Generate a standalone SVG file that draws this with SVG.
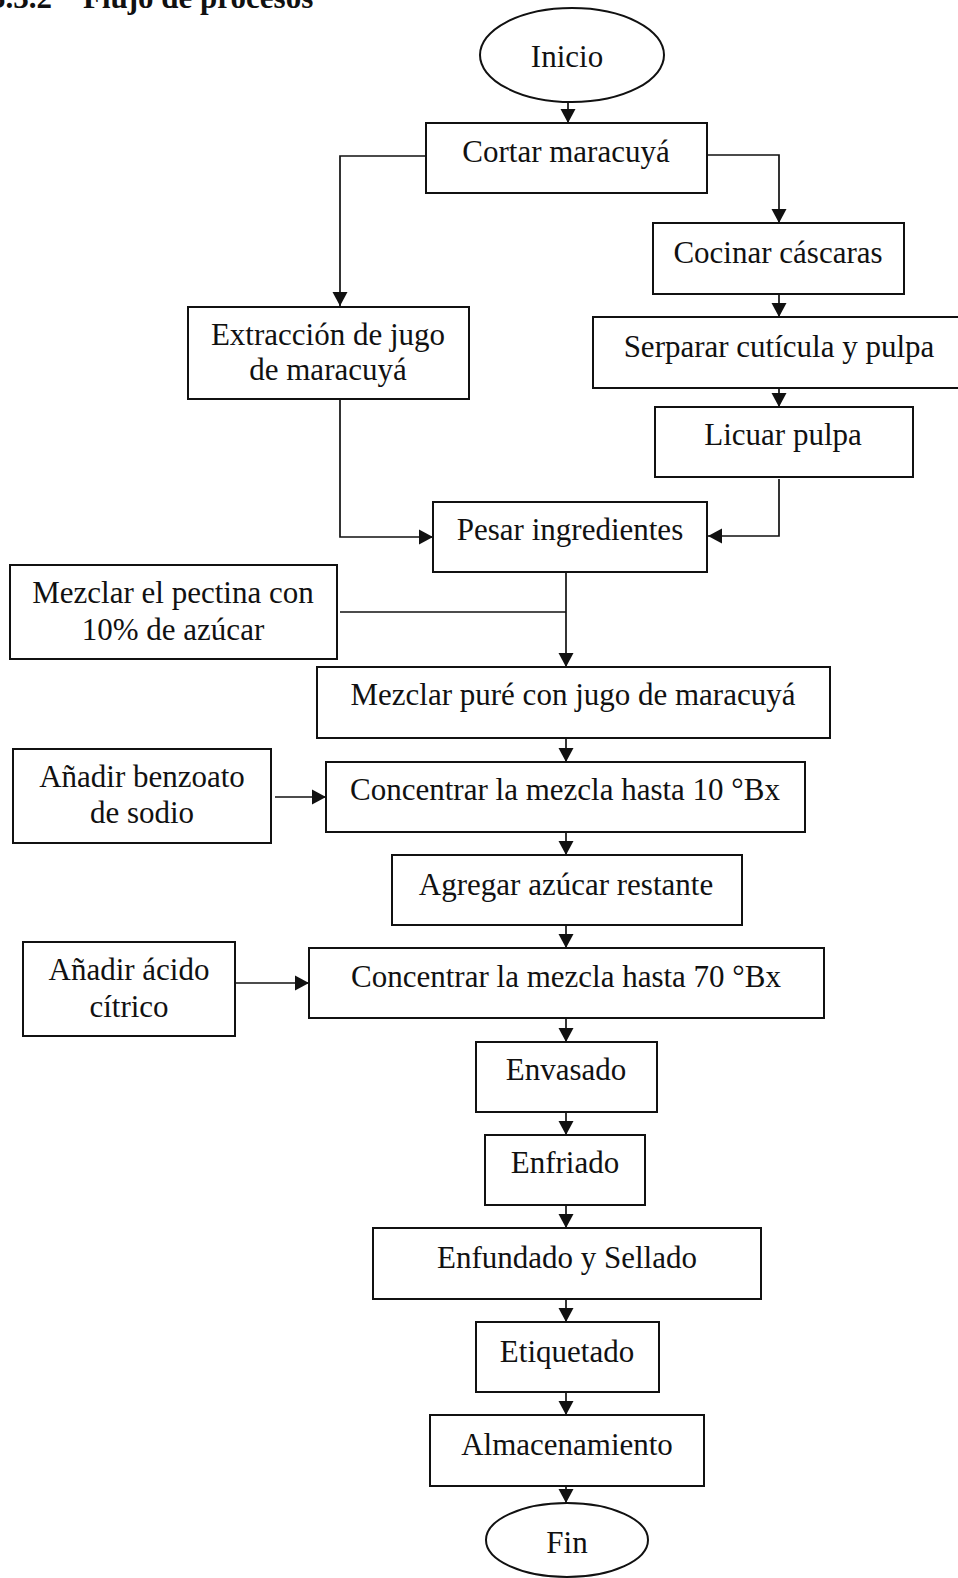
<svg xmlns="http://www.w3.org/2000/svg" width="958" height="1578" viewBox="0 0 958 1578">
<style>
.b{fill:#fff;stroke:#111;stroke-width:2}
.t{font-family:"Liberation Serif","Times New Roman",serif;font-size:31px;fill:#111;text-anchor:middle}
.h{font-family:"Liberation Serif","Times New Roman",serif;font-size:31px;font-weight:bold;fill:#111}
.c{fill:none;stroke:#111;stroke-width:1.7}
.a{marker-end:url(#ar)}
</style>
<defs>
<marker id="ar" markerUnits="userSpaceOnUse" markerWidth="16" markerHeight="16" viewBox="0 0 16 16" refX="15" refY="8" orient="auto">
<path d="M1,0.5 L15,8 L1,15.5 Z" fill="#111"/>
</marker>
</defs>
<rect width="958" height="1578" fill="#fff"/>
<text class="h" x="-10" y="8">5.3.2</text>
<text class="h" x="83" y="8">Flujo de procesos</text>
<g id="connectors">
<path class="c a" d="M568,102 L568,123"/>
<path class="c a" d="M426,156 L340,156 L340,306"/>
<path class="c a" d="M707,155 L779,155 L779,223"/>
<path class="c a" d="M779,294 L779,317"/>
<path class="c a" d="M779,388 L779,407"/>
<path class="c a" d="M779,479 L779,536 L708,536"/>
<path class="c a" d="M340,399 L340,537 L433,537"/>
<path class="c a" d="M566,572 L566,667"/>
<path class="c" d="M340,612 L566,612"/>
<path class="c a" d="M566,738 L566,762"/>
<path class="c a" d="M275,797 L326,797"/>
<path class="c a" d="M566,832 L566,855"/>
<path class="c a" d="M566,925 L566,948"/>
<path class="c a" d="M235,983 L309,983"/>
<path class="c a" d="M566,1018 L566,1042"/>
<path class="c a" d="M566,1112 L566,1135"/>
<path class="c a" d="M566,1205 L566,1228"/>
<path class="c a" d="M566,1299 L566,1322"/>
<path class="c a" d="M566,1392 L566,1415"/>
<path class="c a" d="M566,1486 L566,1503"/>
</g>
<g id="inicio"><ellipse class="b" cx="572" cy="55" rx="92" ry="47"/><text class="t" x="567" y="67">Inicio</text></g>
<g id="cortar"><rect class="b" x="426" y="123" width="281" height="70"/><text class="t" x="566" y="162">Cortar maracuyá</text></g>
<g id="extraccion"><rect class="b" x="188" y="307" width="281" height="92"/><text class="t" x="328" y="345">Extracción de jugo</text><text class="t" x="328" y="380">de maracuyá</text></g>
<g id="cocinar"><rect class="b" x="653" y="223" width="251" height="71"/><text class="t" x="778" y="263">Cocinar cáscaras</text></g>
<g id="separar"><rect class="b" x="593" y="317" width="367" height="71"/><text class="t" x="779" y="357">Serparar cutícula y pulpa</text></g>
<g id="licuar"><rect class="b" x="655" y="407" width="258" height="70"/><text class="t" x="783" y="445">Licuar pulpa</text></g>
<g id="pesar"><rect class="b" x="433" y="502" width="274" height="70"/><text class="t" x="570" y="540">Pesar ingredientes</text></g>
<g id="pectina"><rect class="b" x="10" y="565" width="327" height="94"/><text class="t" x="173" y="603">Mezclar el pectina con</text><text class="t" x="173" y="640">10% de azúcar</text></g>
<g id="mezclar"><rect class="b" x="317" y="667" width="513" height="71"/><text class="t" x="573" y="705">Mezclar puré con jugo de maracuyá</text></g>
<g id="benzoato"><rect class="b" x="13" y="749" width="258" height="94"/><text class="t" x="142" y="787">Añadir benzoato</text><text class="t" x="142" y="823">de sodio</text></g>
<g id="conc10"><rect class="b" x="326" y="762" width="479" height="70"/><text class="t" x="565" y="800">Concentrar la mezcla hasta 10 °Bx</text></g>
<g id="agregar"><rect class="b" x="392" y="855" width="350" height="70"/><text class="t" x="566" y="895">Agregar azúcar restante</text></g>
<g id="conc70"><rect class="b" x="309" y="948" width="515" height="70"/><text class="t" x="566" y="987">Concentrar la mezcla hasta 70 °Bx</text></g>
<g id="acido"><rect class="b" x="23" y="942" width="212" height="94"/><text class="t" x="129" y="980">Añadir ácido</text><text class="t" x="129" y="1017">cítrico</text></g>
<g id="envasado"><rect class="b" x="476" y="1042" width="181" height="70"/><text class="t" x="566" y="1080">Envasado</text></g>
<g id="enfriado"><rect class="b" x="485" y="1135" width="160" height="70"/><text class="t" x="565" y="1173">Enfriado</text></g>
<g id="enfundado"><rect class="b" x="373" y="1228" width="388" height="71"/><text class="t" x="567" y="1268">Enfundado y Sellado</text></g>
<g id="etiquetado"><rect class="b" x="476" y="1322" width="183" height="70"/><text class="t" x="567" y="1362">Etiquetado</text></g>
<g id="almacenamiento"><rect class="b" x="430" y="1415" width="274" height="71"/><text class="t" x="567" y="1455">Almacenamiento</text></g>
<g id="fin"><ellipse class="b" cx="567" cy="1540" rx="81" ry="37"/><text class="t" x="567" y="1553">Fin</text></g>
</svg>
